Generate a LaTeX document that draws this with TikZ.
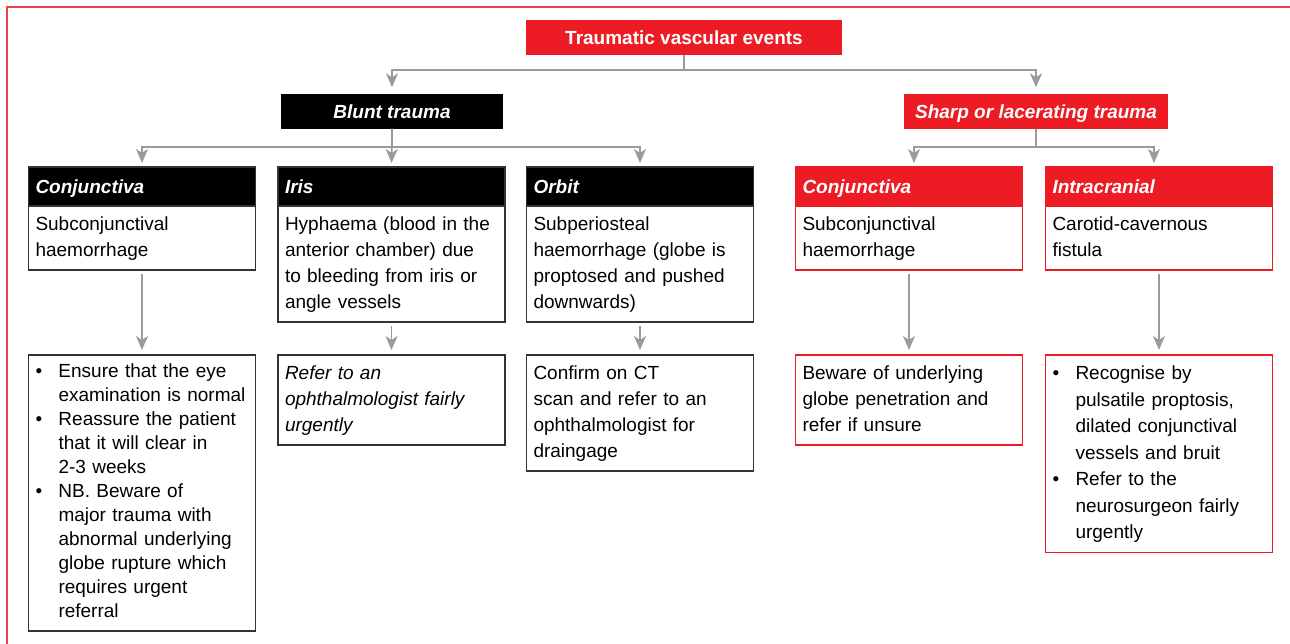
\documentclass[tikz,border=0pt]{standalone}
\usepackage{fontspec}
\setmainfont{Liberation Sans}
\usetikzlibrary{arrows.meta,positioning}

\definecolor{tred}{HTML}{ED1C24}
\definecolor{tgrey}{HTML}{9B9B9F}
\definecolor{tdark}{HTML}{333333}
\newcommand{\bul}{\makebox[23pt][l]{\textbullet}}
\newcommand{\ind}{\hspace*{23pt}}

\begin{document}
\begin{tikzpicture}[
  x=1pt, y=-1pt,
  node distance=0pt,
  tophead/.style={text=white, font=\fontsize{19}{26}\selectfont\bfseries, inner sep=0pt, text height=18pt, text depth=4pt, minimum height=35pt},
  head/.style={anchor=north, text width=213pt, inner xsep=7pt, inner ysep=0pt, outer sep=0pt, minimum height=39pt, text height=18pt, text depth=4pt, align=left, text=white, font=\fontsize{19}{26}\selectfont\bfseries\itshape, line width=1.3pt},
  bhead/.style={head, fill=black, draw=tdark},
  rhead/.style={head, fill=tred, draw=tred},
  body/.style={text width=213pt, inner xsep=7pt, inner ysep=6pt, outer sep=0pt, align=left, font=\fontsize{19}{26}\selectfont, execute at begin node=\strut, execute at end node=\strut, line width=1.3pt},
  bbody/.style={body, draw=tdark},
  rbody/.style={body, draw=tred},
  line/.style={-{Stealth[length=14pt, width=12pt, inset=4pt]}, draw=tgrey, line width=1.7pt}
]
\useasboundingbox (0,0) rectangle (1290,643);
\draw[tred!85, line width=2pt] (6.5,6.5) rectangle (1320,670);

% top levels
\node[tophead, fill=tred, minimum width=316pt] (tve) at (684,37.5) {Traumatic vascular events};
\node[tophead, fill=black, minimum width=222pt, font=\fontsize{19}{26}\selectfont\bfseries\itshape] (blunt) at (392,111) {Blunt trauma};
\node[tophead, fill=tred, minimum width=264pt, font=\fontsize{19}{26}\selectfont\bfseries\itshape] (sharp) at (1036,111) {Sharp or lacerating trauma};

% sites
\node[bhead] (hconj) at (142,167) {Conjunctiva};
\node[bbody, below=of hconj] (bconj) {Subconjunctival\\haemorrhage};
\node[bhead] (hiris) at (391.5,167) {Iris};
\node[bbody, below=of hiris] (biris) {Hyphaema (blood in the\\anterior chamber) due\\to bleeding from iris or\\angle vessels};
\node[bhead] (horb) at (640,167) {Orbit};
\node[bbody, below=of horb] (borb) {Subperiosteal\\haemorrhage (globe is\\proptosed and pushed\\downwards)};
\node[rhead] (hrconj) at (909,167) {Conjunctiva};
\node[rbody, below=of hrconj] (brconj) {Subconjunctival\\haemorrhage};
\node[rhead] (hicr) at (1159,167) {Intracranial};
\node[rbody, below=of hicr] (bicr) {Carotid-cavernous\\fistula};

% actions
\node[bbody, anchor=north, font=\fontsize{19}{24}\selectfont] (aconj) at (142,355) {\bul Ensure that the eye\\\ind examination is normal\\\bul Reassure the patient\\\ind that it will clear in\\\ind 2-3 weeks\\\bul NB. Beware of\\\ind major trauma with\\\ind abnormal underlying\\\ind globe rupture which\\\ind requires urgent\\\ind referral};
\node[bbody, anchor=north, font=\fontsize{19}{26}\selectfont\itshape] (airis) at (391.5,355) {Refer to an\\ophthalmologist fairly\\urgently};
\node[bbody, anchor=north] (aorb) at (640,355) {Confirm on CT\\scan and refer to an\\ophthalmologist for\\draingage};
\node[rbody, anchor=north] (arconj) at (909,355) {Beware of underlying\\globe penetration and\\refer if unsure};
\node[rbody, anchor=north, font=\fontsize{19}{26.5}\selectfont] (aicr) at (1159,355) {\bul Recognise by\\\ind pulsatile proptosis,\\\ind dilated conjunctival\\\ind vessels and bruit\\\bul Refer to the\\\ind neurosurgeon fairly\\\ind urgently};

% connectors
\draw[line, shorten >=6pt] (tve.south) -- ++(0,15) -| (blunt.north);
\draw[line, shorten >=6pt] (tve.south) -- ++(0,15) -| (sharp.north);
\draw[line, shorten >=4pt] (blunt.south) -- ++(0,18) -| (hconj.north);
\draw[line, shorten >=4pt] (blunt.south) -- (hiris.north);
\draw[line, shorten >=4pt] (blunt.south) -- ++(0,18) -| (horb.north);
\draw[line, shorten >=4pt] (sharp.south) -- ++(0,18) -| ([xshift=5pt]hrconj.north);
\draw[line, shorten >=4pt] (sharp.south) -- ++(0,18) -| ([xshift=-5pt]hicr.north);
\draw[line, shorten <=4pt, shorten >=5pt] (bconj.south) -- (aconj.north);
\draw[line, shorten <=4pt, shorten >=5pt] (biris.south) -- (airis.north);
\draw[line, shorten <=4pt, shorten >=5pt] (borb.south) -- (aorb.north);
\draw[line, shorten <=4pt, shorten >=5pt] (brconj.south) -- (arconj.north);
\draw[line, shorten <=4pt, shorten >=5pt] (bicr.south) -- (aicr.north);
\end{tikzpicture}
\end{document}
